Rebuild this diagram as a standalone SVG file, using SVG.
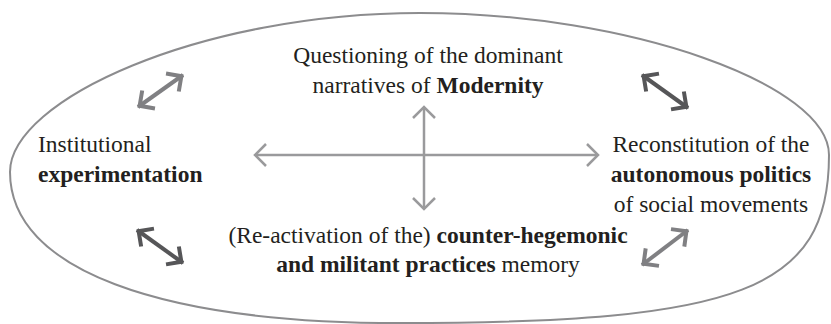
<svg xmlns="http://www.w3.org/2000/svg" width="831" height="324" viewBox="0 0 831 324">
  <style>
    text { font-family: "Liberation Serif", "Times New Roman", serif; font-size: 23.5px; fill: #231f20; }
    .b { font-weight: bold; }
    .mid { text-anchor: middle; }
    .cross { stroke: #9a9a9c; stroke-width: 2.5; fill: none; }
    .lt { stroke: #808083; stroke-width: 4; fill: none; }
    .dk { stroke: #565658; stroke-width: 4; fill: none; }
  </style>
  <defs>
    <marker id="hc" markerUnits="userSpaceOnUse" markerWidth="30" markerHeight="30" refX="0" refY="0" orient="auto-start-reverse" overflow="visible">
      <path d="M-11,-11 L0,0 L-11,11" fill="none" stroke="#9a9a9c" stroke-width="2.5"/>
    </marker>
    <marker id="hl" markerUnits="userSpaceOnUse" markerWidth="30" markerHeight="30" refX="0" refY="0" orient="auto-start-reverse" overflow="visible">
      <path d="M-13,-11 L-2,0 L-13,11" fill="none" stroke="#808083" stroke-width="4"/>
    </marker>
    <marker id="hd" markerUnits="userSpaceOnUse" markerWidth="30" markerHeight="30" refX="0" refY="0" orient="auto-start-reverse" overflow="visible">
      <path d="M-13,-11 L-2,0 L-13,11" fill="none" stroke="#565658" stroke-width="4"/>
    </marker>
  </defs>

  <g id="boundary">
    <path d="M10,172 C10,100 200,13 420,13 C630,13 829,85 829,155 C829,290 740,323 400,323 C160,323 10,270 10,172 Z" fill="none" stroke="#8c8c8e" stroke-width="2"/>
  </g>

  <g id="connectors">
    <line class="cross" x1="255" y1="155" x2="598" y2="155" marker-start="url(#hc)" marker-end="url(#hc)"/>
    <line class="cross" x1="424" y1="107" x2="424" y2="209" marker-start="url(#hc)" marker-end="url(#hc)"/>
    <line class="lt" x1="138" y1="107" x2="183" y2="75" marker-start="url(#hl)" marker-end="url(#hl)"/>
    <line class="dk" x1="642" y1="75" x2="688" y2="108" marker-start="url(#hd)" marker-end="url(#hd)"/>
    <line class="dk" x1="137" y1="230" x2="183" y2="263" marker-start="url(#hd)" marker-end="url(#hd)"/>
    <line class="lt" x1="642" y1="265" x2="688" y2="230" marker-start="url(#hl)" marker-end="url(#hl)"/>
  </g>

  <g id="node-modernity">
    <text class="mid" x="428" y="63">Questioning of the dominant</text>
    <text class="mid" x="428" y="93">narratives of <tspan class="b">Modernity</tspan></text>
  </g>

  <g id="node-institutional">
    <text x="38" y="152">Institutional</text>
    <text class="b" x="38" y="182">experimentation</text>
  </g>

  <g id="node-autonomous">
    <text class="mid" x="711" y="152">Reconstitution of the</text>
    <text class="mid b" x="711" y="182">autonomous politics</text>
    <text class="mid" x="711" y="212">of social movements</text>
  </g>

  <g id="node-memory">
    <text class="mid" x="428" y="243">(Re-activation of the) <tspan class="b">counter-hegemonic</tspan></text>
    <text class="mid" x="428" y="272"><tspan class="b">and militant practices</tspan> memory</text>
  </g>
</svg>
